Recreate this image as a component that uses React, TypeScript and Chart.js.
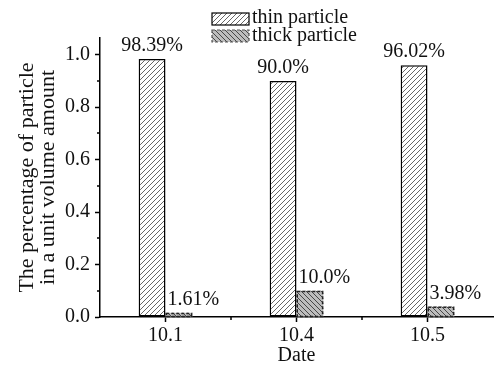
import React, { useEffect, useRef } from "react";
import { Chart, registerables } from "chart.js";

Chart.register(...registerables);

const categories = ["10.1", "10.4", "10.5"];
const thinValues = [0.9839, 0.9, 0.9602];
const thickValues = [0.0161, 0.1, 0.0398];
const thinLabels = ["98.39%", "90.0%", "96.02%"];
const thickLabels = ["1.61%", "10.0%", "3.98%"];
const seriesNames = ["thin particle", "thick particle"];
const yTitle = ["The percentage of particle", "in a unit volume amount"];
const xTitle = "Date";

const FONT = "'Liberation Serif', 'Times New Roman', serif";

function makeHatch(bg: string, fg: string, dir: "/" | "\\", size: number, lw: number) {
  const c = document.createElement("canvas");
  c.width = size;
  c.height = size;
  const x = c.getContext("2d")!;
  x.fillStyle = bg;
  x.fillRect(0, 0, size, size);
  x.strokeStyle = fg;
  x.lineWidth = lw;
  x.beginPath();
  if (dir === "/") {
    x.moveTo(0, size);
    x.lineTo(size, 0);
    x.moveTo(-size, size);
    x.lineTo(size, -size);
    x.moveTo(0, 2 * size);
    x.lineTo(2 * size, 0);
  } else {
    x.moveTo(0, 0);
    x.lineTo(size, size);
    x.moveTo(-size, 0);
    x.lineTo(size, 2 * size);
    x.moveTo(0, -size);
    x.lineTo(2 * size, size);
  }
  x.stroke();
  return x.createPattern(c, "repeat")!;
}

export default function App() {
  const ref = useRef<HTMLCanvasElement | null>(null);

  useEffect(() => {
    const canvas = ref.current!;
    const thinPattern = makeHatch("#ffffff", "#555555", "/", 5, 0.9);
    const thickPattern = makeHatch("#bdbdbd", "#3a3a3a", "\\", 5, 0.9);

    const extras = {
      id: "extras",
      afterDatasetsDraw(chart: any) {
        const ctx = chart.ctx;
        ctx.save();
        const m1 = chart.getDatasetMeta(1);
        ctx.strokeStyle = "#222";
        ctx.lineWidth = 1.5;
        ctx.setLineDash([3, 2]);
        m1.data.forEach((bar: any) => {
          const { x, y, base, width } = bar.getProps(["x", "y", "base", "width"], true);
          ctx.strokeRect(x - width / 2 + 0.75, y + 0.75, width - 1.5, base - y - 0.75);
        });
        ctx.setLineDash([]);
        ctx.fillStyle = "#111";
        ctx.font = `20px ${FONT}`;
        ctx.textBaseline = "bottom";
        const m0 = chart.getDatasetMeta(0);
        ctx.textAlign = "center";
        m0.data.forEach((bar: any, i: number) => {
          ctx.fillText(thinLabels[i], bar.x, bar.y - 3);
        });
        ctx.textAlign = "left";
        m1.data.forEach((bar: any, i: number) => {
          const w = bar.width;
          ctx.fillText(thickLabels[i], bar.x - w / 2 + 2, bar.y - 3);
        });
        ctx.restore();
      },
      afterDraw(chart: any) {
        const ctx = chart.ctx;
        const { left, bottom } = chart.chartArea;
        const ys = chart.scales.y;
        const xs = chart.scales.x;
        ctx.save();
        ctx.strokeStyle = "#000";
        ctx.lineWidth = 1.5;
        for (let v = 0.1; v < ys.max; v += 0.2) {
          const py = Math.round(ys.getPixelForValue(v));
          ctx.beginPath();
          ctx.moveTo(left - 3, py);
          ctx.lineTo(left, py);
          ctx.stroke();
        }
        for (let i = 0; i < categories.length - 1; i++) {
          const px = Math.round((xs.getPixelForValue(i) + xs.getPixelForValue(i + 1)) / 2);
          ctx.beginPath();
          ctx.moveTo(px, bottom);
          ctx.lineTo(px, bottom + 3);
          ctx.stroke();
        }
        const items = [
          { bg: thinPattern, dashed: false },
          { bg: thickPattern, dashed: true },
        ];
        const lx = 212;
        const rows = [13, 30];
        const bases = [23, 41];
        ctx.font = `20px ${FONT}`;
        ctx.textAlign = "left";
        ctx.textBaseline = "alphabetic";
        items.forEach((it, i) => {
          ctx.fillStyle = it.bg;
          ctx.fillRect(lx, rows[i], 37, 12);
          ctx.strokeStyle = it.dashed ? "#555" : "#000";
          ctx.lineWidth = 1.2;
          if (it.dashed) ctx.setLineDash([3, 2]);
          ctx.strokeRect(lx, rows[i], 37, 12);
          ctx.setLineDash([]);
          ctx.fillStyle = "#111";
          ctx.fillText(seriesNames[i], lx + 40, bases[i]);
        });
        ctx.restore();
      },
    };

    const chart = new Chart(canvas, {
      type: "bar",
      data: {
        labels: categories,
        datasets: [
          {
            label: seriesNames[0],
            data: thinValues,
            backgroundColor: thinPattern,
            borderColor: "#000",
            borderWidth: 1.5,
            borderSkipped: false,
          },
          {
            label: seriesNames[1],
            data: thickValues,
            backgroundColor: thickPattern,
            borderWidth: 0,
          },
        ],
      },
      options: {
        animation: false,
        responsive: false,
        devicePixelRatio: 1,
        layout: { padding: { top: 38, right: 2, left: 0, bottom: 0 } },
        datasets: { bar: { categoryPercentage: 0.41, barPercentage: 1 } },
        plugins: { legend: { display: false }, tooltip: { enabled: false } },
        scales: {
          x: {
            afterFit: (s: any) => {
              s.height = 50;
            },
            grid: {
              offset: false,
              drawOnChartArea: false,
              drawTicks: true,
              tickLength: 5,
              tickColor: "#000",
              tickWidth: 1.5,
            },
            border: { display: true, color: "#000", width: 1.5 },
            ticks: { color: "#111", font: { family: FONT, size: 20 }, padding: 2 },
            title: {
              display: true,
              text: xTitle,
              color: "#111",
              font: { family: FONT, size: 20, lineHeight: 1.1 },
              padding: { top: 0, bottom: 0 },
            },
          },
          y: {
            min: 0,
            max: 1.064,
            afterFit: (s: any) => {
              s.width = 100;
            },
            grid: {
              drawOnChartArea: false,
              drawTicks: true,
              tickLength: 5,
              tickColor: "#000",
              tickWidth: 1.5,
            },
            border: { display: true, color: "#000", width: 1.5 },
            ticks: {
              stepSize: 0.2,
              includeBounds: false,
              color: "#111",
              font: { family: FONT, size: 20 },
              padding: 5,
              callback: (v: any) => Number(v).toFixed(1),
            },
            title: {
              display: true,
              text: yTitle,
              color: "#111",
              font: { family: FONT, size: 22, lineHeight: 0.95 },
              padding: { top: 17, bottom: 0 },
            },
          },
        },
      },
      plugins: [extras],
    } as any);

    return () => chart.destroy();
  }, []);

  return (
    <div style={{ position: "absolute", left: 0, top: 0, width: 495, height: 367 }}>
      <canvas ref={ref} width={495} height={367} style={{ display: "block" }} />
    </div>
  );
}
